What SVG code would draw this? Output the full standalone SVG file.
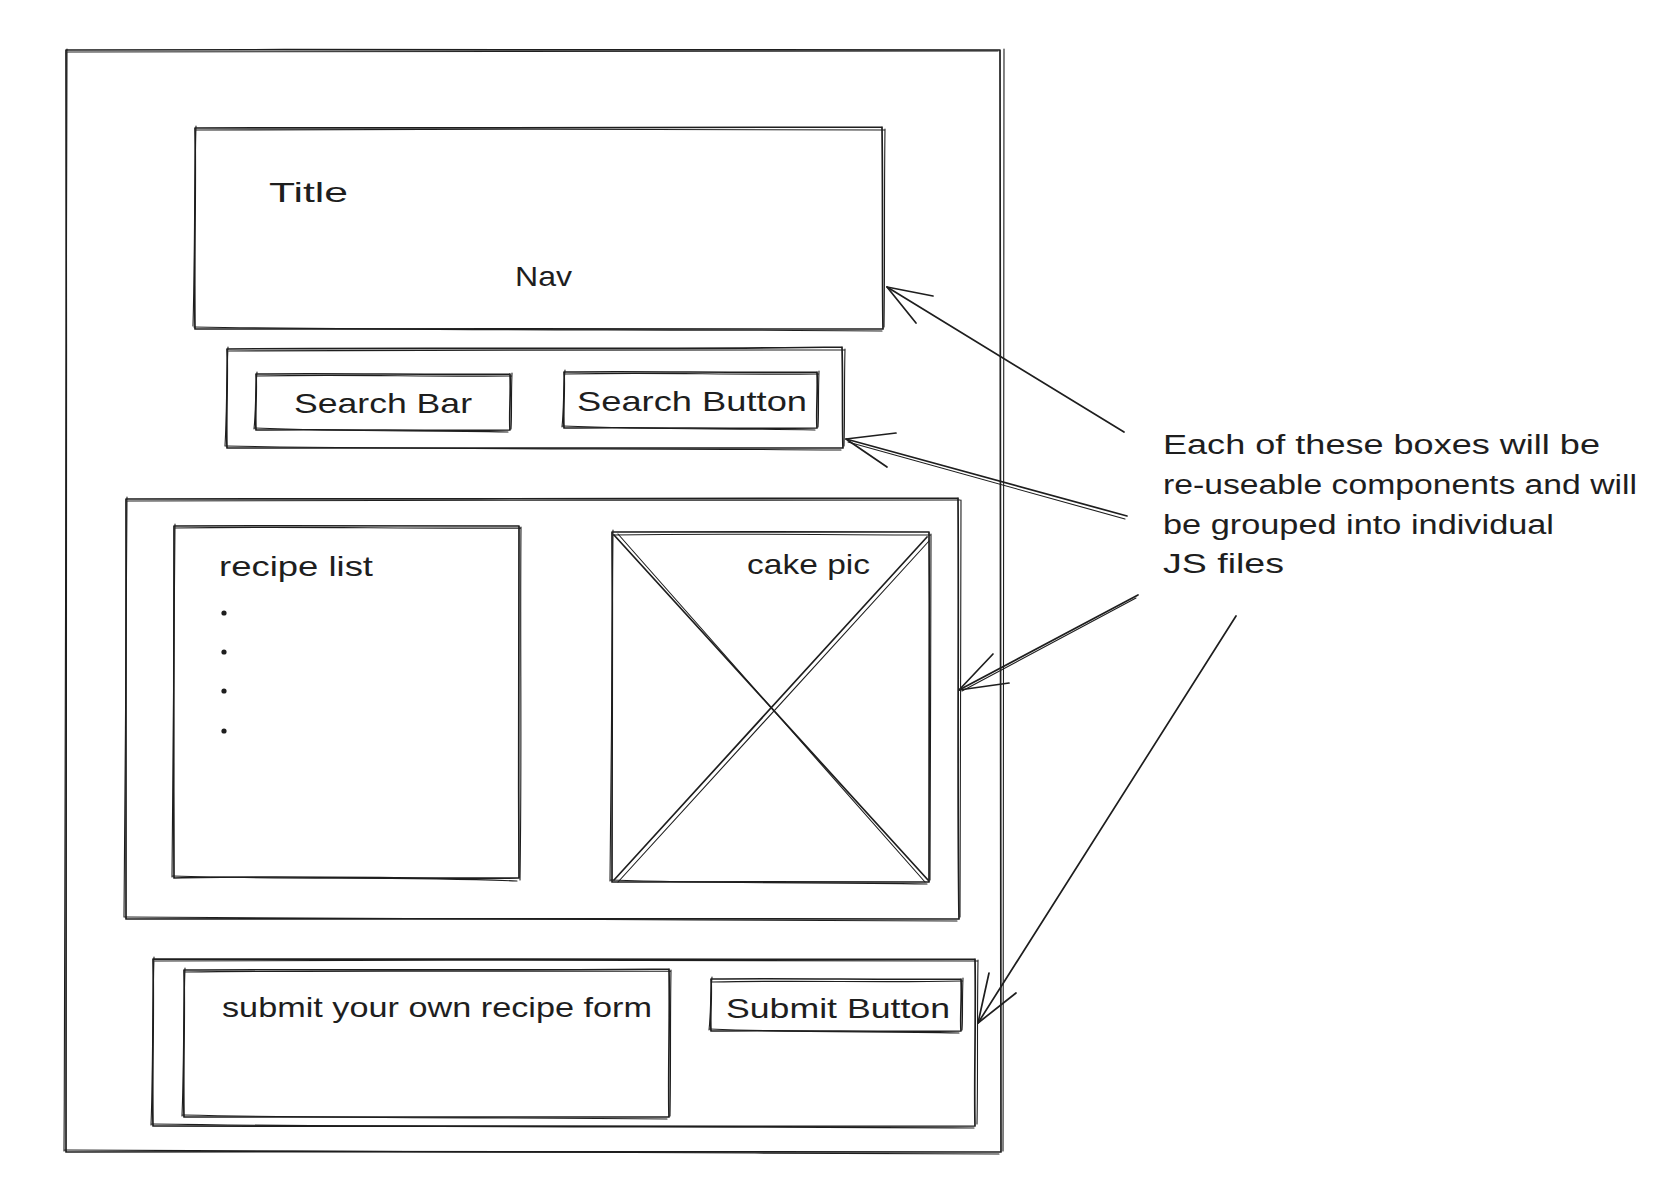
<svg xmlns="http://www.w3.org/2000/svg" width="1674" height="1190" viewBox="0 0 1674 1190">
  <style>
    .sk { fill: none; stroke: #1e1e1e; stroke-width: 1.7; stroke-linecap: round; stroke-linejoin: round; }
    .sk2 { fill: none; stroke: #1e1e1e; stroke-width: 1.1; stroke-linecap: round; stroke-linejoin: round; }
    .lbl { font-family: "Liberation Sans", "DejaVu Sans", sans-serif; font-size: 28px; fill: #1e1e1e; }
    .note { font-family: "Liberation Sans", "DejaVu Sans", sans-serif; font-size: 27px; fill: #1e1e1e; }
    .dot { fill: #1e1e1e; }
  </style>
  <rect width="1674" height="1190" fill="#ffffff"/>

  <!-- page frame -->
  <g id="page">
    <path class="sk" d="M66 50 C380 49 700 51 1000 50 M1000 50 C1001 420 999 800 1001 1152 M1001 1152 C700 1153 380 1151 66 1152 M66 1152 C65 800 67 420 66 50"/>
    <path class="sk2" d="M68 52 C390 50 690 52 998 51 M1004 49 C1002 430 1004 790 1003 1151 M999 1154 C690 1152 390 1154 65 1150 M64 1151 C66 790 65 430 67 49"/>
  </g>

  <!-- header: title + nav -->
  <g id="header">
    <path class="sk" d="M195 128 C420 127 660 129 882 127 M882 127 C883 200 882 270 883 329 M883 329 C660 330 420 328 195 329 M195 329 C194 260 196 190 195 128"/>
    <path class="sk2" d="M196 130 C430 128 650 130 884 130 M885 129 C884 210 885 260 884 327 M882 331 C650 329 430 331 194 327 M193 326 C195 250 194 200 196 126"/>
    <text class="lbl" x="269" y="202" textLength="79" lengthAdjust="spacingAndGlyphs">Title</text>
    <text class="lbl" x="515" y="286" textLength="57" lengthAdjust="spacingAndGlyphs">Nav</text>
  </g>

  <!-- search row -->
  <g id="search-row">
    <path class="sk" d="M227 349 C430 347 640 350 842 347 M842 347 C843 380 842 420 843 448 M843 448 C640 449 430 447 227 448 M227 448 C226 420 228 380 227 349"/>
    <path class="sk2" d="M229 351 C440 349 630 351 844 350 M845 349 C844 390 845 415 844 446 M841 450 C630 448 440 450 226 446 M225 446 C227 410 226 390 228 347"/>
  </g>
  <g id="search-bar">
    <path class="sk" d="M256 374 C340 373 430 375 510 374 M510 374 C511 395 509 412 510 430 M510 430 C430 431 340 429 256 430 M256 430 C255 412 257 395 256 374"/>
    <path class="sk2" d="M257 376 C350 374 420 377 511 376 M512 373 C511 400 512 415 511 429 M508 432 C420 430 350 432 255 428 M254 429 C256 410 255 395 257 372"/>
    <text class="lbl" x="294" y="413" textLength="178" lengthAdjust="spacingAndGlyphs">Search Bar</text>
  </g>
  <g id="search-button">
    <path class="sk" d="M564 372 C650 371 730 373 817 372 M817 372 C818 392 816 410 817 428 M817 428 C730 429 650 427 564 428 M564 428 C563 410 565 392 564 372"/>
    <path class="sk2" d="M565 374 C660 372 720 375 818 374 M819 371 C818 398 819 413 818 427 M815 430 C720 428 660 430 563 426 M562 427 C564 408 563 392 565 370"/>
    <text class="lbl" x="577" y="411" textLength="230" lengthAdjust="spacingAndGlyphs">Search Button</text>
  </g>

  <!-- content: recipe list + picture -->
  <g id="content">
    <path class="sk" d="M126 499 C400 498 690 500 958 498 M958 498 C959 640 957 780 959 919 M959 919 C690 920 400 918 126 919 M126 919 C125 780 127 640 126 499"/>
    <path class="sk2" d="M128 501 C410 499 680 501 960 500 M961 500 C960 650 961 770 960 917 M957 921 C680 919 410 921 125 917 M124 917 C126 770 125 650 127 497"/>
  </g>
  <g id="recipe-list">
    <path class="sk" d="M174 526 C290 525 410 527 519 526 M519 526 C520 640 518 760 519 878 M519 878 C410 879 290 875 174 878 M174 878 C173 760 175 640 174 526"/>
    <path class="sk2" d="M175 528 C300 526 400 529 521 528 M521 527 C520 650 522 750 520 880 M517 881 C400 876 300 880 173 876 M172 877 C174 750 173 650 175 524"/>
    <text class="lbl" x="219" y="576" textLength="154" lengthAdjust="spacingAndGlyphs">recipe list</text>
    <circle class="dot" cx="224" cy="613" r="2.6"/>
    <circle class="dot" cx="224" cy="652" r="2.6"/>
    <circle class="dot" cx="224" cy="691" r="2.6"/>
    <circle class="dot" cx="224" cy="731" r="2.6"/>
  </g>
  <g id="cake-pic">
    <path class="sk" d="M612 532 C720 531 820 533 929 532 M929 532 C930 650 928 770 929 882 M929 882 C820 883 720 881 612 882 M612 882 C611 770 613 650 612 532"/>
    <path class="sk2" d="M613 535 C730 533 810 535 930 535 M931 534 C930 660 931 760 930 880 M927 884 C810 882 730 884 611 880 M610 881 C612 760 611 660 613 530"/>
    <path class="sk" d="M614 535 L928 880"/>
    <path class="sk2" d="M618 534 L925 882"/>
    <path class="sk" d="M927 537 L614 880"/>
    <path class="sk2" d="M929 541 L618 882"/>
    <text class="lbl" x="747" y="574" textLength="123" lengthAdjust="spacingAndGlyphs">cake pic</text>
  </g>

  <!-- submit row -->
  <g id="submit-row">
    <path class="sk" d="M153 959 C420 958 700 960 975 959 M975 959 C976 1020 974 1080 975 1126 M975 1126 C700 1127 420 1125 153 1126 M153 1126 C152 1080 154 1020 153 959"/>
    <path class="sk2" d="M155 961 C430 959 690 961 977 961 M978 960 C977 1030 978 1075 977 1124 M974 1128 C690 1126 430 1128 152 1124 M151 1125 C153 1075 152 1030 154 957"/>
  </g>
  <g id="recipe-form">
    <path class="sk" d="M184 970 C350 969 510 971 669 969 M669 969 C670 1020 668 1070 669 1117 M669 1117 C510 1118 350 1116 184 1117 M184 1117 C183 1070 185 1020 184 970"/>
    <path class="sk2" d="M185 972 C360 970 500 972 671 971 M671 970 C670 1030 671 1065 670 1116 M667 1119 C500 1117 360 1119 183 1115 M182 1116 C184 1065 183 1030 185 968"/>
    <text class="lbl" x="222" y="1017" textLength="430" lengthAdjust="spacingAndGlyphs">submit your own recipe form</text>
  </g>
  <g id="submit-button">
    <path class="sk" d="M711 979 C800 978 880 980 961 979 M961 979 C962 1000 960 1015 961 1031 M961 1031 C880 1032 800 1030 711 1031 M711 1031 C710 1015 712 1000 711 979"/>
    <path class="sk2" d="M712 982 C810 980 870 983 962 981 M963 978 C962 1002 963 1018 962 1030 M959 1033 C870 1031 810 1033 710 1029 M709 1030 C711 1013 710 1000 712 977"/>
    <text class="lbl" x="726" y="1018" textLength="224" lengthAdjust="spacingAndGlyphs">Submit Button</text>
  </g>

  <!-- annotation -->
  <g id="note">
    <text class="note" x="1163" y="454" textLength="437" lengthAdjust="spacingAndGlyphs">Each of these boxes will be</text>
    <text class="note" x="1163" y="494" textLength="474" lengthAdjust="spacingAndGlyphs">re-useable components and will</text>
    <text class="note" x="1163" y="534" textLength="391" lengthAdjust="spacingAndGlyphs">be grouped into individual</text>
    <text class="note" x="1163" y="573" textLength="121" lengthAdjust="spacingAndGlyphs">JS files</text>
  </g>

  <!-- connectors from the note to each component -->
  <g id="connectors">
    <path class="sk" d="M1124 432 L887 287"/>
    <path class="sk" d="M887 287 L933 296 M887 287 L916 323"/>

    <path class="sk" d="M1127 516 L846 439"/>
    <path class="sk2" d="M1125 519 L848 442"/>
    <path class="sk" d="M846 439 L896 433 M846 439 L887 467"/>

    <path class="sk" d="M1138 595 L959 690"/>
    <path class="sk2" d="M1136 598 L962 691"/>
    <path class="sk" d="M959 690 L993 654 M959 690 L1009 683"/>

    <path class="sk" d="M1236 616 L978 1023"/>
    <path class="sk" d="M978 1023 L989 973 M978 1023 L1016 993"/>
  </g>
</svg>
